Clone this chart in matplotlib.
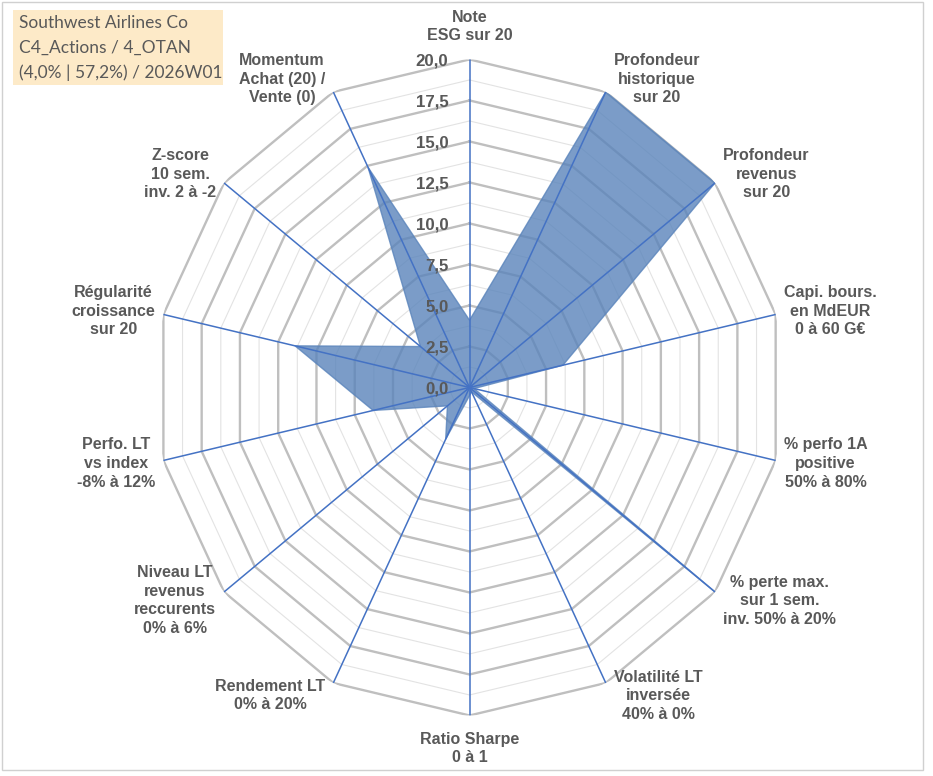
import numpy as np
import matplotlib.pyplot as plt
from matplotlib.patches import Rectangle
from matplotlib.transforms import offset_copy

# ── Data ─────────────────────────────────────────────────────────────────────
categories = [
    "Note\nESG sur 20",
    "Profondeur\nhistorique\nsur 20",
    "Profondeur\nrevenus\nsur 20",
    "Capi. bours.\nen MdEUR\n0 à 60 G€",
    "% perfo 1A\npositive\n50% à 80%",
    "% perte max.\nsur 1 sem.\ninv. 50% à 20%",
    "Volatilité LT\ninversée\n40% à 0%",
    "Ratio Sharpe\n0 à 1",
    "Rendement LT\n0% à 20%",
    "Niveau LT\nrevenus\nreccurents\n0% à 6%",
    "Perfo. LT\nvs index\n-8% à 12%",
    "Régularité\ncroissance\nsur 20",
    "Z-score\n10 sem.\ninv. 2 à -2",
    "Momentum\nAchat (20) /\nVente (0)",
]
values = [4.1, 20.0, 20.0, 6.1, 0.3, 20.0, 0.3, 0.5, 3.5, 1.8, 6.3, 11.4, 4.0, 14.9]

r_ticks = [0.0, 2.5, 5.0, 7.5, 10.0, 12.5, 15.0, 17.5, 20.0]
r_tick_labels = [f"{t:.1f}".replace(".", ",") for t in r_ticks]
minor_rings = [1.25, 3.75, 6.25, 8.75, 11.25, 13.75, 16.25, 18.75]

title_lines = [
    "Southwest Airlines Co",
    "C4_Actions / 4_OTAN",
    "(4,0% | 57,2%) / 2026W01",
]

# ── Figure ───────────────────────────────────────────────────────────────────
TXT = "#595959"
n = len(categories)
angles = np.linspace(0, 2 * np.pi, n, endpoint=False)
closed = np.append(angles, angles[0])

fig = plt.figure(figsize=(9.33, 7.76), dpi=100)
# the source chart is slightly squeezed horizontally -> let the polar box stretch
ax = fig.add_axes([0.1667, 0.078, 0.6731, 0.8454], projection="polar")
ax.set_aspect("auto")
ax.set_theta_offset(np.pi / 2)
ax.set_theta_direction(-1)
ax.set_ylim(0, 20)
ax.grid(False)
ax.spines["polar"].set_visible(False)
ax.set_xticks([])
ax.set_yticks([])
ax.patch.set_alpha(0)

# polygon grid
for r in minor_rings:
    ax.plot(closed, [r] * (n + 1), color="#E3E3E3", lw=0.8, zorder=1)
for r in r_ticks[1:]:
    ax.plot(closed, [r] * (n + 1), color="#BFBFBF", lw=1.7, zorder=2)

# series (semi-transparent so the rings show through, as in the source)
ax.fill(closed, values + values[:1], facecolor="#5A84BB", alpha=0.8,
        edgecolor="#5A84BB", lw=1.0, zorder=3)

# spokes on top of the fill
for a in angles:
    ax.plot([a, a], [0, 20], color="#4472C4", lw=1.1, zorder=4)

# category labels, Excel-like: beside the outer vertex, above/below at top/bottom
for a, lab in zip(angles, categories):
    s, c = np.sin(a), np.cos(a)
    if abs(s) < 0.1:
        ha, off = "center", (0, 33 * np.sign(c))
    else:
        ha = "left" if s > 0 else "right"
        off = (8 * np.sign(s), 14 * c)
    ax.annotate(lab, xy=(a, 20), xytext=off, textcoords="offset pixels",
                ha=ha, va="center", multialignment="center",
                fontsize=11.5, fontweight="bold", color=TXT,
                family="Liberation Sans", linespacing=1.3,
                annotation_clip=False)

# radial tick labels
tick_tr = offset_copy(ax.transData, fig=fig, x=-21, y=-1.5, units="dots")
for t, lab in zip(r_ticks, r_tick_labels):
    ax.text(0, t, lab, transform=tick_tr, ha="right", va="center",
            fontsize=12.2, fontweight="bold", color=TXT,
            family="Liberation Sans", zorder=5)

# title box
fig.patches.append(Rectangle((0.0139, 0.8905), 0.225, 0.0966,
                             transform=fig.transFigure, facecolor="#FDEAC8",
                             edgecolor="none", zorder=0))
for y, line in zip([0.9704, 0.9381, 0.9059], title_lines):
    fig.text(0.0204, y, line, ha="left", va="center", fontsize=12.5,
             color=TXT, family="Lato")

# outer frame
fig.patches.append(Rectangle((2 / 933, 6 / 776), 921 / 933, 768 / 776,
                             transform=fig.transFigure, facecolor="none",
                             edgecolor="#D0D0D0", lw=1.0))

fig.savefig("out.png", dpi=100)
